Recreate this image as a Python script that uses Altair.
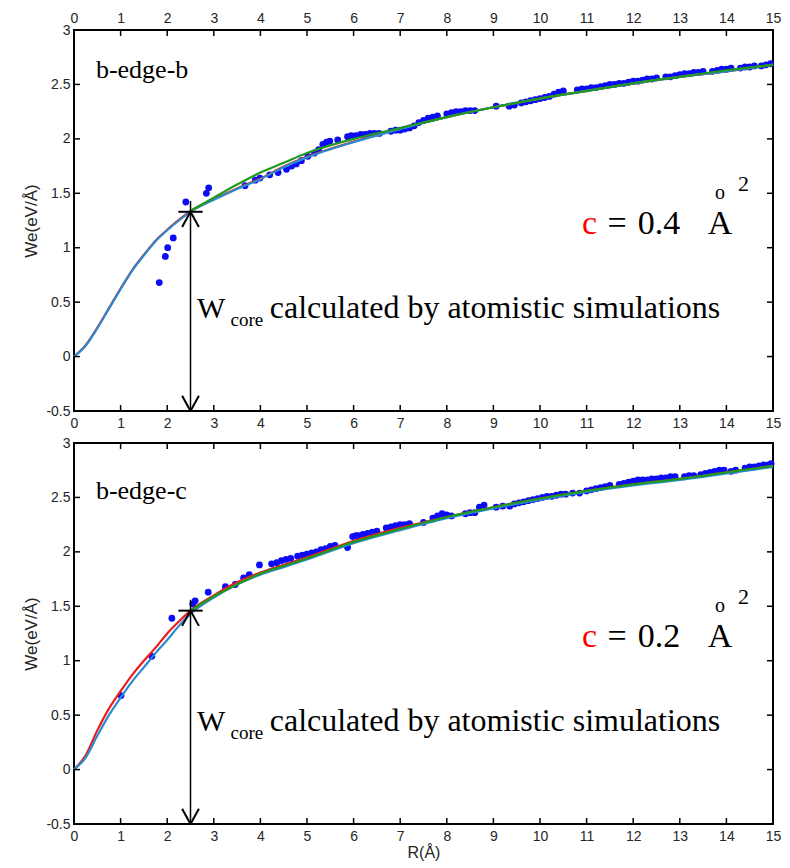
import altair as alt
import pandas as pd

# ---------------- data ----------------
X_TICKS = list(range(0, 16))
Y_TICKS = [-0.5, 0, 0.5, 1, 1.5, 2, 2.5, 3]

CURVE_R = [0, 0.25, 0.5, 0.75, 1, 1.25, 1.5, 1.75, 2, 2.25, 2.5, 3, 3.5, 4, 4.5, 5,
           6, 7, 8, 9, 10, 11, 12, 13, 14, 15]
TOP_BLUE = [0, 0.1, 0.26, 0.44, 0.62, 0.79, 0.93, 1.06, 1.16, 1.25, 1.33, 1.44, 1.54, 1.63,
            1.74, 1.83, 1.97, 2.09, 2.2, 2.29, 2.37, 2.44, 2.51, 2.57, 2.62, 2.68]
TOP_RED = [0, 0.105, 0.265, 0.445, 0.625, 0.795, 0.935, 1.065, 1.165, 1.255, 1.335, 1.445,
           1.545, 1.635, 1.745, 1.835, 1.975, 2.095, 2.2, 2.29, 2.37, 2.44, 2.51, 2.57, 2.62, 2.68]
GREEN_R = [2.5, 3, 3.5, 4, 4.5, 5, 6, 7, 8, 9, 10, 11, 12, 13, 14, 15]
TOP_GREEN = [1.34, 1.46, 1.58, 1.69, 1.78, 1.87, 2.0, 2.1, 2.2, 2.29, 2.37, 2.44, 2.51, 2.57, 2.63, 2.68]

BOT_BLUE = [0, 0.11, 0.31, 0.5, 0.66, 0.81, 0.94, 1.07, 1.19, 1.32, 1.43, 1.58, 1.7, 1.79,
            1.86, 1.93, 2.08, 2.2, 2.31, 2.4, 2.48, 2.55, 2.61, 2.66, 2.72, 2.78]
BOT_RED = [0, 0.13, 0.36, 0.56, 0.72, 0.87, 1.0, 1.12, 1.25, 1.36, 1.46, 1.6, 1.72, 1.81,
           1.88, 1.95, 2.1, 2.22, 2.32, 2.41, 2.49, 2.56, 2.62, 2.67, 2.73, 2.79]
BOT_GREEN = [1.46, 1.59, 1.7, 1.8, 1.87, 1.94, 2.09, 2.21, 2.32, 2.41, 2.49, 2.56, 2.62, 2.67, 2.73, 2.79]

TOP_DOT_R = [1.83, 1.96, 2.01, 2.13, 2.40, 2.84, 2.89, 3.67, 3.89, 3.99, 4.2, 4.38, 4.56, 4.67,
             4.77, 4.88, 5.02, 5.16, 5.25, 5.34, 5.42, 5.49, 5.66, 5.87, 5.95, 6.05, 6.15, 6.25,
             6.35, 6.45, 6.55, 6.8, 6.9, 7.0, 7.1, 7.2, 7.3, 7.4, 7.5, 7.6, 7.7, 7.8, 8.0, 8.1,
             8.2, 8.3, 8.4, 8.5, 8.6, 9.06, 9.34, 9.45, 9.6, 9.7, 9.8, 9.9, 10.0, 10.1, 10.2,
             10.3, 10.4, 10.5, 10.8, 10.9, 11.0, 11.1, 11.2, 11.3, 11.4, 11.5, 11.6, 11.7, 11.8,
             11.9, 12.0, 12.1, 12.2, 12.3, 12.4, 12.5, 12.7, 12.8, 12.9, 13.0, 13.1, 13.2, 13.3,
             13.4, 13.5, 13.7, 13.8, 13.9, 14.0, 14.1, 14.3, 14.4, 14.5, 14.6, 14.75, 14.85, 14.95]
TOP_DOT_W = [0.68, 0.92, 1.0, 1.09, 1.42, 1.50, 1.55, 1.57, 1.62, 1.64, 1.67, 1.69, 1.72, 1.75,
             1.77, 1.80, 1.84, 1.87, 1.9, 1.95, 1.97, 1.98, 1.99, 2.02, 2.03, 2.03, 2.04, 2.04,
             2.05, 2.05, 2.05, 2.07, 2.08, 2.08, 2.09, 2.10, 2.12, 2.15, 2.17, 2.19, 2.2, 2.21,
             2.23, 2.24, 2.25, 2.25, 2.26, 2.26, 2.26, 2.3, 2.3, 2.31, 2.33, 2.34, 2.35, 2.36,
             2.37, 2.38, 2.39, 2.41, 2.43, 2.44, 2.45, 2.46, 2.46, 2.47, 2.47, 2.48, 2.49, 2.5,
             2.5, 2.51, 2.51, 2.52, 2.53, 2.53, 2.54, 2.55, 2.55, 2.56, 2.57, 2.57, 2.58, 2.59,
             2.6, 2.6, 2.61, 2.61, 2.62, 2.62, 2.63, 2.64, 2.64, 2.65, 2.65, 2.66, 2.66, 2.67,
             2.67, 2.68, 2.69]

BOT_DOT_R = [1.01, 1.67, 2.1, 2.55, 2.6, 2.88, 3.25, 3.46, 3.64, 3.76, 3.98, 4.24, 4.35, 4.45,
             4.55, 4.65, 4.8, 4.9, 5.0, 5.1, 5.2, 5.3, 5.4, 5.5, 5.6, 5.87, 5.98, 6.05, 6.1, 6.2,
             6.3, 6.4, 6.5, 6.7, 6.8, 6.9, 7.0, 7.1, 7.2, 7.5, 7.7, 7.8, 7.9, 8.0, 8.1, 8.4, 8.5,
             8.6, 8.7, 8.8, 9.06, 9.2, 9.35, 9.45, 9.55, 9.65, 9.75, 9.85, 9.95, 10.05, 10.15,
             10.25, 10.35, 10.45, 10.55, 10.7, 10.85, 11.0, 11.1, 11.2, 11.3, 11.4, 11.5, 11.7,
             11.8, 11.9, 12.0, 12.1, 12.2, 12.3, 12.4, 12.5, 12.6, 12.7, 12.8, 12.9, 13.1, 13.2,
             13.3, 13.45, 13.55, 13.65, 13.75, 13.85, 13.95, 14.1, 14.2, 14.4, 14.5, 14.6, 14.7,
             14.8, 14.9, 14.96]
BOT_DOT_W = [0.68, 1.04, 1.39, 1.52, 1.55, 1.63, 1.68, 1.70, 1.76, 1.79, 1.88, 1.89, 1.9, 1.92,
             1.93, 1.94, 1.96, 1.97, 1.98, 1.99, 2.0, 2.02, 2.03, 2.05, 2.06, 2.04, 2.14, 2.15,
             2.15, 2.16, 2.17, 2.18, 2.19, 2.22, 2.23, 2.24, 2.25, 2.25, 2.26, 2.27, 2.31, 2.33,
             2.35, 2.34, 2.33, 2.35, 2.36, 2.36, 2.41, 2.43, 2.41, 2.42, 2.42, 2.44, 2.45, 2.46,
             2.47, 2.48, 2.49, 2.5, 2.51, 2.51, 2.52, 2.53, 2.53, 2.54, 2.54, 2.56, 2.57, 2.58,
             2.59, 2.6, 2.61, 2.62, 2.63, 2.64, 2.65, 2.66, 2.66, 2.66, 2.67, 2.67, 2.68, 2.68,
             2.69, 2.69, 2.69, 2.7, 2.7, 2.71, 2.72, 2.73, 2.74, 2.75, 2.75, 2.74, 2.75, 2.77,
             2.78, 2.78, 2.79, 2.8, 2.8, 2.81]

PANEL_TAGS = ["b-edge-b", "b-edge-c"]
TAG_W = [2.56, 2.49]
C_VALUES = ["0.4", "0.2"]
STAR_R = 2.5
STAR_W = [1.33, 1.46]

# ---------------- styling ----------------
PW, PH = 699, 381
SERIF = "Liberation Serif"
SANS = "Liberation Sans"
DOT_COLOR = "#0b0bf5"
BLUE = "#2b8bd0"
RED = "#ee1c1c"
GREEN = "#1f9a1f"
LABEL_COLOR = "#262626"
XS = alt.Scale(domain=[0, 15], nice=False, zero=False)
YS = alt.Scale(domain=[-0.5, 3], nice=False, zero=False)


def xenc(field, axis=None):
    if axis is None:
        return alt.X(field, type="quantitative", scale=XS, axis=None)
    return alt.X(field, type="quantitative", scale=XS, axis=axis)


def yenc(field, axis=None):
    if axis is None:
        return alt.Y(field, type="quantitative", scale=YS, axis=None)
    return alt.Y(field, type="quantitative", scale=YS, axis=axis)


def label_axis(orient, with_title):
    kw = dict(orient=orient, values=X_TICKS, ticks=False, tickSize=0, domain=False, grid=False,
              labelFont=SANS, labelFontSize=14, labelColor=LABEL_COLOR, labelFlush=False,
              labelPadding=5, format="d")
    if with_title:
        kw.update(title="R(Å)", titleFont=SANS, titleFontSize=16, titleFontWeight="normal",
                  titleColor=LABEL_COLOR, titlePadding=1)
    else:
        kw.update(title=None)
    return alt.Axis(**kw)


def panel(idx, dot_r, dot_w, blue, red, green, top_labels, x_title):
    star_w = STAR_W[idx]
    dots = pd.DataFrame({"R": dot_r, "W": dot_w})
    curve = pd.DataFrame({"R": CURVE_R, "blue": blue, "red": red})
    gcurve = pd.DataFrame({"R": GREEN_R, "green": green})

    yaxis = alt.Axis(values=Y_TICKS, ticks=False, tickSize=0, domain=False, grid=False,
                     labelFont=SANS, labelFontSize=14, labelColor=LABEL_COLOR, labelPadding=4,
                     labelFlush=False, labelExpr="datum.value + ''",
                     title="We(eV/Å)", titleFont=SANS, titleFontSize=17,
                     titleFontWeight="normal", titleColor=LABEL_COLOR, titlePadding=5)

    pts = alt.Chart(dots).mark_circle(size=46, color=DOT_COLOR, opacity=1).encode(
        x=xenc("R", label_axis("bottom", x_title)), y=yenc("W", yaxis))

    red_l = alt.Chart(curve).mark_line(color=RED, strokeWidth=2.2, interpolate="monotone").encode(
        x=xenc("R"), y=yenc("red"))
    blue_l = alt.Chart(curve).mark_line(color=BLUE, strokeWidth=2.2, interpolate="monotone").encode(
        x=xenc("R"), y=yenc("blue"))
    green_l = alt.Chart(gcurve).mark_line(color=GREEN, strokeWidth=2.2, interpolate="monotone").encode(
        x=xenc("R"), y=yenc("green"))

    # arrow + star annotation (data units)
    seg = pd.DataFrame({
        "R":  [STAR_R, STAR_R - 0.26, STAR_R, STAR_R, STAR_R, STAR_R],
        "R2": [STAR_R, STAR_R + 0.26, STAR_R - 0.18, STAR_R + 0.18, STAR_R - 0.18, STAR_R + 0.18],
        "W":  [star_w + 0.1, star_w, star_w, star_w, -0.5, -0.5],
        "W2": [-0.5, star_w, star_w - 0.14, star_w - 0.14, -0.36, -0.36],
        "sw": [1.5, 2, 2, 2, 2, 2],
    })
    arrows = alt.Chart(seg).mark_rule(color="black").encode(
        x=xenc("R"), x2="R2", y=yenc("W"), y2="W2",
        strokeWidth=alt.StrokeWidth("sw:Q", scale=None))

    # inward tick marks
    xt = pd.DataFrame({"R": X_TICKS})
    yt = pd.DataFrame({"W": Y_TICKS})
    top_axis = label_axis("top", False) if top_labels else None
    tick_top = alt.Chart(xt).mark_rule(color="black", strokeWidth=1.5).encode(
        x=xenc("R", top_axis), y=alt.value(0), y2=alt.value(6))
    tick_bot = alt.Chart(xt).mark_rule(color="black", strokeWidth=1.5).encode(
        x=xenc("R"), y=alt.value(PH), y2=alt.value(PH - 6))
    tick_left = alt.Chart(yt).mark_rule(color="black", strokeWidth=1.5).encode(
        y=yenc("W"), x=alt.value(0), x2=alt.value(6))
    tick_right = alt.Chart(yt).mark_rule(color="black", strokeWidth=1.5).encode(
        y=yenc("W"), x=alt.value(PW), x2=alt.value(PW - 6))

    # texts
    def txt(df, size, color="black", align="left", baseline="alphabetic", font=SERIF):
        return alt.Chart(df).mark_text(font=font, fontSize=size, color=color, align=align,
                                       baseline=baseline).encode(
            x=xenc("R"), y=yenc("W"), text="t:N")

    tag = txt(pd.DataFrame({"R": [0.47], "W": [TAG_W[idx]], "t": [PANEL_TAGS[idx]]}), 26)
    wbig = txt(pd.DataFrame({"R": [2.64], "W": [0.35], "t": ["W"]}), 30)
    wsub = txt(pd.DataFrame({"R": [3.36], "W": [0.285], "t": ["core"]}), 19)
    wrest = txt(pd.DataFrame({"R": [4.2], "W": [0.35], "t": ["calculated by atomistic simulations"]}), 32)
    c_red = txt(pd.DataFrame({"R": [10.9], "W": [1.125], "t": ["c"]}), 34, color="#ff0000")
    c_eq = txt(pd.DataFrame({"R": [11.45], "W": [1.125], "t": ["="]}), 34)
    c_num = txt(pd.DataFrame({"R": [12.1], "W": [1.125], "t": [C_VALUES[idx]]}), 34)
    c_A = txt(pd.DataFrame({"R": [13.6], "W": [1.125], "t": ["A"]}), 34)
    c_o = txt(pd.DataFrame({"R": [13.86], "W": [1.5], "t": ["o"]}), 20, align="center", baseline="middle")
    c_2 = txt(pd.DataFrame({"R": [14.25], "W": [1.52], "t": ["2"]}), 22)

    layers = [pts, red_l, blue_l, green_l, arrows, tick_top, tick_bot, tick_left, tick_right,
              tag, wbig, wsub, wrest, c_red, c_eq, c_num, c_A, c_o, c_2]
    return (alt.layer(*layers)
            .resolve_axis(x="independent", y="independent")
            .properties(width=PW, height=PH))


top = panel(0, TOP_DOT_R, TOP_DOT_W, TOP_BLUE, TOP_RED, TOP_GREEN, True, False)
bottom = panel(1, BOT_DOT_R, BOT_DOT_W, BOT_BLUE, BOT_RED, BOT_GREEN, False, True)

chart = alt.vconcat(top, bottom, spacing=4).properties(
    padding={"left": 13, "top": 2, "right": 0, "bottom": 0},
    background="white",
).configure_view(stroke="black", strokeWidth=2)

chart.save("out.html", embed_options={"renderer": "svg", "actions": False})
